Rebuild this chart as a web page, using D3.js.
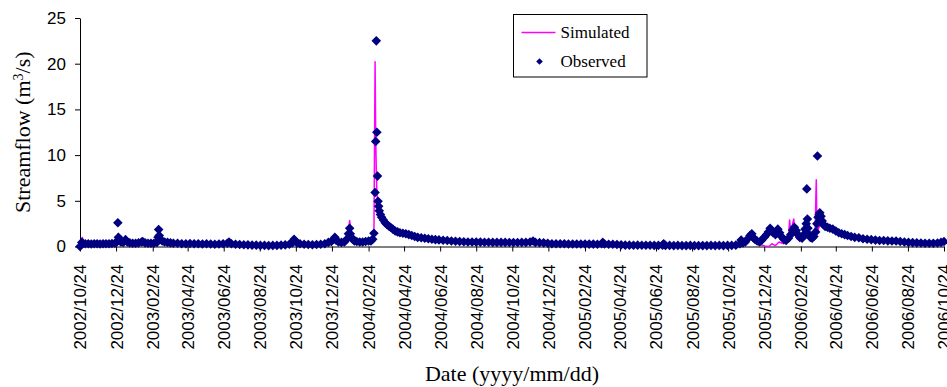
<!DOCTYPE html>
<html>
<head>
<meta charset="utf-8">
<script src="https://cdn.jsdelivr.net/npm/d3@7/dist/d3.min.js"></script>
<style>
  html, body { margin: 0; padding: 0; background: #fff; }
  svg { display: block; font-family: "Times New Roman", "Liberation Serif", serif; }
</style>
</head>
<body>
<svg id="chart" width="947" height="387"></svg>
<script>
// Data: day offsets from the start date, streamflow in m3/s
const startDate = "2002-10-24";

const xTickLabels = [
  "2002/10/24", "2002/12/24", "2003/02/24", "2003/04/24", "2003/06/24",
  "2003/08/24", "2003/10/24", "2003/12/24", "2004/02/24", "2004/04/24",
  "2004/06/24", "2004/08/24", "2004/10/24", "2004/12/24", "2005/02/24",
  "2005/04/24", "2005/06/24", "2005/08/24", "2005/10/24", "2005/12/24",
  "2006/02/24", "2006/04/24", "2006/06/24", "2006/08/24", "2006/10/24"
];
const yTicks = [0, 5, 10, 15, 20, 25];

const observed = [
  [0,0.0],[3,0.45],[5,0.35],[9,0.3],[14,0.3],[19,0.28],[24,0.3],[29,0.3],[34,0.28],[39,0.3],
  [44,0.3],[49,0.3],[54,0.32],[59,0.35],[62,0.5],[64,2.6],[65,1.0],[66,0.7],[69,0.5],[73,0.45],
  [77,0.75],[80,0.5],[84,0.4],[89,0.35],[94,0.35],[99,0.4],[104,0.5],[106,0.55],[110,0.4],[115,0.35],
  [120,0.35],[125,0.35],[130,0.45],[132,1.0],[133,1.85],[134,1.2],[136,0.8],[139,0.6],[143,0.5],[148,0.45],
  [153,0.4],[158,0.35],[165,0.35],[172,0.3],[179,0.3],[186,0.32],[193,0.3],[200,0.3],[207,0.28],[214,0.3],
  [221,0.28],[228,0.25],[235,0.28],[242,0.3],[249,0.35],[252,0.5],[256,0.3],[263,0.25],[270,0.22],[277,0.2],
  [284,0.18],[291,0.15],[298,0.15],[305,0.12],[312,0.12],[319,0.1],[326,0.12],[333,0.12],[340,0.15],[347,0.18],
  [354,0.25],[359,0.4],[362,0.8],[364,0.6],[367,0.4],[372,0.3],[379,0.25],[386,0.22],[393,0.2],[400,0.22],
  [407,0.25],[414,0.3],[420,0.45],[425,0.55],[429,0.8],[431,1.0],[433,0.7],[437,0.5],[442,0.45],[447,0.5],
  [451,0.8],[454,1.4],[456,2.0],[457,1.4],[459,1.0],[461,0.8],[464,0.6],[468,0.55],[473,0.5],[478,0.5],
  [483,0.55],[488,0.6],[492,0.6],[495,0.8],[497,1.45],[499,5.9],[500,11.5],[501,22.5],[502,12.5],[503,7.7],
  [504,4.95],[505,4.4],[506,3.9],[508,3.5],[510,3.2],[513,2.9],[516,2.6],[519,2.4],[522,2.25],[525,2.1],
  [529,1.9],[533,1.7],[537,1.6],[541,1.5],[546,1.45],[551,1.4],[556,1.3],[561,1.2],[566,1.1],[571,1.0],
  [577,0.95],[583,0.9],[589,0.85],[595,0.8],[601,0.75],[607,0.72],[614,0.68],[621,0.65],[628,0.6],[635,0.58],
  [642,0.55],[649,0.52],[656,0.5],[663,0.5],[670,0.48],[677,0.48],[684,0.47],[691,0.46],[698,0.45],[705,0.45],
  [712,0.45],[719,0.45],[726,0.44],[733,0.44],[740,0.43],[747,0.45],[754,0.45],[761,0.5],[766,0.6],[770,0.45],
  [777,0.42],[784,0.4],[791,0.35],[798,0.3],[805,0.3],[812,0.3],[819,0.3],[826,0.28],[833,0.28],[840,0.28],
  [847,0.27],[854,0.27],[861,0.26],[868,0.26],[875,0.25],[882,0.3],[884,0.45],[887,0.28],[894,0.25],[901,0.25],
  [908,0.22],[915,0.18],[922,0.15],[929,0.15],[936,0.14],[943,0.15],[950,0.14],[957,0.13],[964,0.13],[971,0.12],
  [978,0.12],[985,0.15],[987,0.3],[990,0.12],[997,0.12],[1004,0.1],[1011,0.12],[1018,0.1],[1025,0.1],[1032,0.12],
  [1039,0.1],[1046,0.1],[1053,0.1],[1060,0.1],[1067,0.12],[1074,0.1],[1081,0.12],[1088,0.1],[1095,0.12],[1102,0.12],
  [1109,0.15],[1116,0.3],[1118,0.7],[1121,0.4],[1125,0.5],[1130,0.9],[1133,1.2],[1136,1.4],[1138,1.0],[1141,0.8],
  [1145,0.6],[1149,0.5],[1153,0.7],[1157,1.0],[1161,1.3],[1164,1.6],[1167,2.0],[1169,1.75],[1172,1.5],[1176,1.3],
  [1180,1.9],[1183,1.5],[1186,1.1],[1190,0.8],[1194,0.65],[1198,0.9],[1202,1.3],[1205,1.8],[1208,2.1],[1211,1.75],
  [1214,1.3],[1217,1.0],[1221,0.9],[1224,1.3],[1226,1.9],[1228,2.5],[1229,6.3],[1230,3.0],[1231,2.0],[1233,1.3],
  [1235,1.0],[1238,0.9],[1241,1.1],[1244,1.6],[1246,2.5],[1247,9.9],[1248,3.2],[1250,3.5],[1251,3.7],[1253,3.3],
  [1255,2.8],[1257,2.4],[1260,2.2],[1264,2.1],[1268,2.0],[1273,1.9],[1278,1.7],[1283,1.5],[1288,1.4],[1293,1.3],
  [1298,1.2],[1304,1.1],[1310,1.0],[1317,0.95],[1324,0.85],[1331,0.8],[1338,0.75],[1345,0.7],[1352,0.65],[1359,0.65],
  [1366,0.62],[1373,0.6],[1380,0.6],[1387,0.55],[1394,0.5],[1401,0.45],[1408,0.42],[1415,0.4],[1422,0.38],[1429,0.36],
  [1436,0.35],[1443,0.35],[1450,0.38],[1456,0.45],[1461,0.55]
];

const simulated = [
  [0,0.2],[2,0.6],[4,1.0],[6,0.4],[20,0.3],[40,0.3],[60,0.3],[63,0.6],[64,1.4],[66,0.6],
  [70,0.4],[77,0.6],[85,0.4],[105,0.45],[120,0.35],[132,0.8],[133,1.2],[135,0.7],[145,0.45],[160,0.35],
  [200,0.3],[250,0.35],[252,0.45],[260,0.3],[300,0.15],[340,0.15],[360,0.5],[362,0.7],[366,0.3],[400,0.2],
  [420,0.4],[430,0.9],[434,0.5],[450,0.6],[454,1.8],[456,2.85],[458,1.6],[461,0.9],[466,0.6],[480,0.5],
  [495,0.55],[497,0.9],[499,20.2],[500,12.0],[501,8.5],[502,6.0],[503,5.0],[505,4.2],[508,3.5],[512,3.0],
  [518,2.5],[525,2.1],[535,1.7],[545,1.45],[560,1.2],[580,0.9],[600,0.75],[630,0.6],[660,0.5],[700,0.45],
  [760,0.45],[766,0.55],[770,0.45],[800,0.3],[880,0.26],[884,0.4],[887,0.27],[920,0.15],[1000,0.1],[1100,0.1],
  [1116,0.2],[1118,0.5],[1121,0.3],[1130,0.6],[1136,1.0],[1140,0.5],[1150,0.2],[1158,0.05],[1165,0.0],[1170,0.3],
  [1176,0.1],[1182,0.5],[1190,0.3],[1198,1.0],[1200,2.9],[1202,1.2],[1205,2.5],[1207,3.0],[1209,1.5],[1213,0.8],
  [1220,0.6],[1228,1.5],[1230,1.0],[1238,0.7],[1243,1.5],[1245,7.3],[1246,2.5],[1248,1.8],[1252,2.5],[1258,2.0],
  [1270,1.7],[1290,1.3],[1320,0.85],[1350,0.65],[1390,0.5],[1430,0.35],[1461,0.45]
];

// Layout
const width = 947;
const height = 387;
const margin = { top: 18, right: 3, bottom: 140.5, left: 80 };
const plotW = width - margin.left - margin.right;
const plotH = height - margin.top - margin.bottom;

const parseDay = d3.timeParse("%Y-%m-%d");
const parseTick = d3.timeParse("%Y/%m/%d");
const t0 = parseDay(startDate);
const toDate = (day) => d3.timeDay.offset(t0, day);

const x = d3.scaleTime()
  .domain([t0, parseTick(xTickLabels[xTickLabels.length - 1])])
  .range([0, plotW]);

const y = d3.scaleLinear()
  .domain([0, 25])
  .range([plotH, 0]);

const svg = d3.select("#chart");
const g = svg.append("g")
  .attr("transform", `translate(${margin.left},${margin.top})`);

// X axis
const xAxis = g.append("g")
  .attr("transform", `translate(0,${plotH})`)
  .call(
    d3.axisBottom(x)
      .tickValues(xTickLabels.map(parseTick))
      .tickFormat(d3.timeFormat("%Y/%m/%d"))
      .tickSize(5)
      .tickSizeOuter(0)
  );
xAxis.selectAll("text")
  .attr("transform", "rotate(-90)")
  .attr("x", -18)
  .attr("y", 0)
  .attr("dy", "0.35em")
  .style("text-anchor", "end")
  .style("font-size", "17px")
  .style("fill", "#000");

// Y axis
const yAxis = g.append("g")
  .call(
    d3.axisLeft(y)
      .tickValues(yTicks)
      .tickSize(5)
      .tickSizeOuter(0)
      .tickPadding(9)
  );
yAxis.selectAll("text")
  .style("font-size", "17px")
  .style("fill", "#000");

g.selectAll(".domain, .tick line").attr("stroke", "#000").attr("stroke-width", 1);

// Simulated line (under the markers)
const line = d3.line()
  .x((d) => x(toDate(d[0])))
  .y((d) => y(d[1]));

g.append("path")
  .datum(simulated)
  .attr("fill", "none")
  .attr("stroke", "#ff00ff")
  .attr("stroke-width", 1.5)
  .attr("stroke-linejoin", "round")
  .attr("d", line);

// Observed diamonds
const diamond = d3.symbol().type(d3.symbolSquare).size(46);
g.append("g")
  .selectAll("path")
  .data(observed)
  .enter()
  .append("path")
  .attr("d", diamond)
  .attr("transform", (d) => `translate(${x(toDate(d[0]))},${y(d[1])}) rotate(45)`)
  .attr("fill", "#000080");

// Axis titles
svg.append("text")
  .attr("x", 512)
  .attr("y", 381)
  .attr("text-anchor", "middle")
  .style("font-size", "22px")
  .text("Date (yyyy/mm/dd)");

const yTitle = svg.append("text")
  .attr("transform", `translate(30,${margin.top + plotH / 2}) rotate(-90)`)
  .attr("text-anchor", "middle")
  .style("font-size", "22px");
yTitle.append("tspan").text("Streamflow (m");
yTitle.append("tspan").attr("baseline-shift", "super").style("font-size", "14px").text("3");
yTitle.append("tspan").text("/s)");

// Legend
const legend = svg.append("g").attr("transform", "translate(513.5,14.5)");
legend.append("rect")
  .attr("width", 133.5)
  .attr("height", 62.5)
  .attr("fill", "#fff")
  .attr("stroke", "#000")
  .attr("stroke-width", 1);
legend.append("line")
  .attr("x1", 8).attr("x2", 42)
  .attr("y1", 18).attr("y2", 18)
  .attr("stroke", "#ff00ff")
  .attr("stroke-width", 1.5);
legend.append("text")
  .attr("x", 47).attr("y", 23)
  .style("font-size", "17px")
  .text("Simulated");
legend.append("path")
  .attr("d", d3.symbol().type(d3.symbolSquare).size(22))
  .attr("transform", "translate(26,47) rotate(45)")
  .attr("fill", "#000080");
legend.append("text")
  .attr("x", 47).attr("y", 52)
  .style("font-size", "17px")
  .text("Observed");
</script>
</body>
</html>
